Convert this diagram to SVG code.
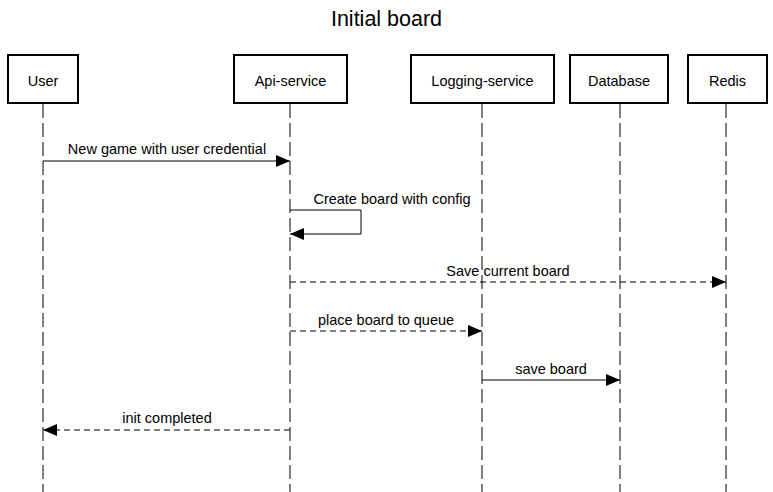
<svg xmlns="http://www.w3.org/2000/svg" width="773" height="492" viewBox="0 0 773 492">
<style>
text{font-family:"Liberation Sans",Arial,Helvetica,sans-serif;fill:#000}
.box{fill:#fff;stroke:#000;stroke-width:2}
.lbl{font-size:14.5px;text-anchor:middle}
.life{stroke:#000;stroke-width:1;stroke-dasharray:14 5;fill:none}
.msg{stroke:#000;stroke-width:1;fill:none}
.dash{stroke-dasharray:6 4}
</style>
<defs>
<marker id="arr" markerUnits="userSpaceOnUse" markerWidth="15" markerHeight="14" refX="14" refY="7" orient="auto">
<path d="M0,1 L14,7 L0,13 Z" fill="#000"/>
</marker>
</defs>
<rect width="773" height="492" fill="#fff"/>
<text x="386.5" y="26" font-size="21.5" text-anchor="middle">Initial board</text>
<g id="lifelines">
<line class="life" x1="43" y1="104" x2="43" y2="492"/>
<line class="life" x1="290" y1="104" x2="290" y2="492"/>
<line class="life" x1="482" y1="104" x2="482" y2="492"/>
<line class="life" x1="620" y1="104" x2="620" y2="492"/>
<line class="life" x1="726" y1="104" x2="726" y2="492"/>
</g>
<g id="user"><rect class="box" x="8" y="55" width="70" height="48"/><text class="lbl" x="43" y="85.5">User</text></g>
<g id="api"><rect class="box" x="234" y="55" width="113" height="48"/><text class="lbl" x="290.5" y="85.5">Api-service</text></g>
<g id="logging"><rect class="box" x="411" y="55" width="143" height="48"/><text class="lbl" x="482.5" y="85.5">Logging-service</text></g>
<g id="database"><rect class="box" x="570" y="55" width="98" height="48"/><text class="lbl" x="619" y="85.5">Database</text></g>
<g id="redis"><rect class="box" x="688" y="55" width="79" height="48"/><text class="lbl" x="727.5" y="85.5">Redis</text></g>
<g id="connectors">
<line class="msg" x1="43" y1="161" x2="290" y2="161" marker-end="url(#arr)"/>
<text class="lbl" x="167" y="154">New game with user credential</text>
<path class="msg" d="M290,210 H361 V234 H290" marker-end="url(#arr)"/>
<text class="lbl" x="392" y="204">Create board with config</text>
<line class="msg dash" x1="290" y1="282" x2="726" y2="282" marker-end="url(#arr)"/>
<text class="lbl" x="508" y="276">Save current board</text>
<line class="msg dash" x1="290" y1="331" x2="482" y2="331" marker-end="url(#arr)"/>
<text class="lbl" x="386" y="325">place board to queue</text>
<line class="msg" x1="482" y1="380" x2="620" y2="380" marker-end="url(#arr)"/>
<text class="lbl" x="551" y="374">save board</text>
<line class="msg dash" x1="290" y1="430" x2="43" y2="430" marker-end="url(#arr)"/>
<text class="lbl" x="167" y="423">init completed</text>
</g>
</svg>
